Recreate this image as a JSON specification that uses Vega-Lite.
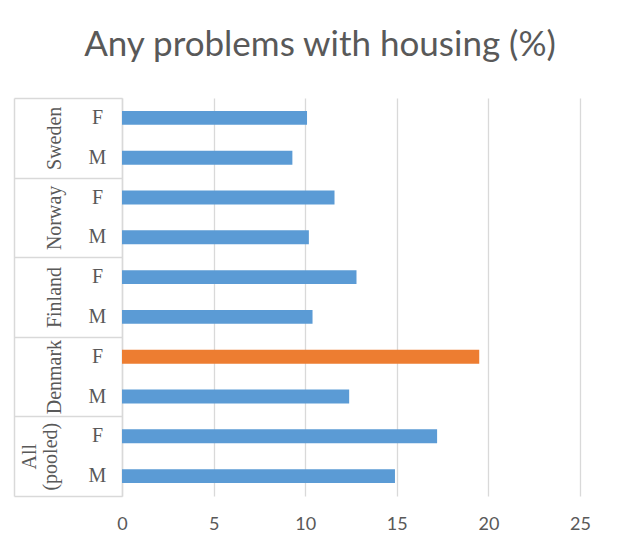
{
  "$schema": "https://vega.github.io/schema/vega-lite/v6.json",
  "width": 458,
  "height": 398,
  "autosize": {"type": "none"},
  "padding": {"left": 122, "top": 98, "right": 41, "bottom": 63},
  "background": "white",
  "title": {
    "text": "Any problems with housing (%)",
    "font": "Lato",
    "fontSize": 35,
    "fontWeight": "normal",
    "color": "#595959",
    "anchor": "middle",
    "frame": "group",
    "dx": -31,
    "offset": -1,
    "baseline": "bottom"
  },
  "config": {"view": {"stroke": null}},
  "resolve": {"scale": {"y": "independent"}, "axis": {"y": "independent"}},
  "layer": [
    {
      "data": {
        "values": [
          {"bar": "Sweden F", "country": "Sweden", "sex": "F", "value": 10.1},
          {"bar": "Sweden M", "country": "Sweden", "sex": "M", "value": 9.3},
          {"bar": "Norway F", "country": "Norway", "sex": "F", "value": 11.6},
          {"bar": "Norway M", "country": "Norway", "sex": "M", "value": 10.2},
          {"bar": "Finland F", "country": "Finland", "sex": "F", "value": 12.8},
          {"bar": "Finland M", "country": "Finland", "sex": "M", "value": 10.4},
          {"bar": "Denmark F", "country": "Denmark", "sex": "F", "value": 19.5},
          {"bar": "Denmark M", "country": "Denmark", "sex": "M", "value": 12.4},
          {"bar": "All (pooled) F", "country": "All (pooled)", "sex": "F", "value": 17.2},
          {"bar": "All (pooled) M", "country": "All (pooled)", "sex": "M", "value": 14.9}
        ]
      },
      "mark": {"type": "bar"},
      "encoding": {
        "y": {
          "field": "bar",
          "type": "nominal",
          "sort": null,
          "scale": {"paddingInner": 0.65, "paddingOuter": 0.325},
          "axis": {
            "title": null,
            "orient": "left",
            "labelExpr": "substring(datum.value, length(datum.value) - 1)",
            "domain": true,
            "domainColor": "#d9d9d9",
            "domainWidth": 1.5,
            "ticks": false,
            "grid": false,
            "labelFont": "Liberation Serif",
            "labelFontSize": 20,
            "labelColor": "#595959",
            "labelAlign": "center",
            "labelBaseline": "middle",
            "labelPadding": 25
          }
        },
        "x": {
          "field": "value",
          "type": "quantitative",
          "scale": {"domain": [0, 25], "nice": false},
          "axis": {
            "title": null,
            "values": [0, 5, 10, 15, 20, 25],
            "grid": true,
            "gridColor": "#d9d9d9",
            "gridWidth": 1.3,
            "domain": false,
            "ticks": false,
            "labelFlush": false,
            "labelFont": "Lato",
            "labelFontSize": 18,
            "labelColor": "#595959",
            "labelPadding": 19
          }
        },
        "color": {
          "condition": {"test": "datum.country === 'Denmark' && datum.sex === 'F'", "value": "#ed7d31"},
          "value": "#5b9bd5"
        }
      }
    },
    {
      "data": {
        "values": [
          {"country": "Sweden"},
          {"country": "Norway"},
          {"country": "Finland"},
          {"country": "Denmark"},
          {"country": "All (pooled)"}
        ]
      },
      "mark": {"type": "bar", "opacity": 0},
      "encoding": {
        "y": {
          "field": "country",
          "type": "nominal",
          "sort": null,
          "scale": {"paddingInner": 0, "paddingOuter": 0},
          "axis": {
            "title": null,
            "orient": "left",
            "offset": 108,
            "domain": true,
            "domainColor": "#d9d9d9",
            "domainWidth": 1.5,
            "ticks": true,
            "tickColor": "#d9d9d9",
            "tickWidth": 1.5,
            "tickSize": -108,
            "tickBand": "extent",
            "grid": false,
            "labelAngle": -90,
            "labelAlign": "center",
            "labelBaseline": "bottom",
            "labelPadding": {"condition": {"test": "datum.value === 'All (pooled)'", "value": 83}, "value": 58},
            "labelExpr": "datum.value === 'All (pooled)' ? ['All', '(pooled)'] : datum.value",
            "labelFont": "Liberation Serif",
            "labelFontSize": 20,
            "labelColor": "#595959",
            "labelLineHeight": 21
          }
        }
      }
    }
  ]
}
